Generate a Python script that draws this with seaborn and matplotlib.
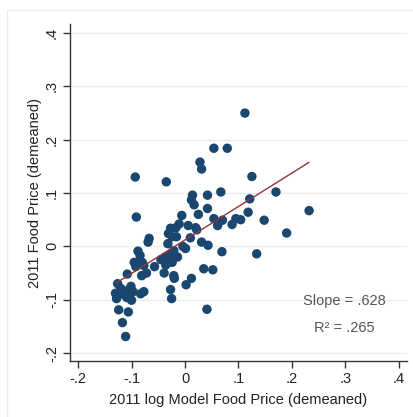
import matplotlib
matplotlib.use("Agg")
import matplotlib.pyplot as plt
import seaborn as sns
import pandas as pd
from matplotlib.patches import Rectangle

# Demeaned log model food price (x) and demeaned food price (y), 2011
model_price = [
    0.112, 0.054, 0.079, 0.028, 0.031, -0.093, -0.035, 0.125, 0.170, 0.067,
    0.042, 0.014, 0.012, 0.017, 0.121, 0.232, 0.042, 0.118, -0.091, 0.025,
    -0.006, 0.054, 0.070, 0.095, 0.104, 0.148, 0.088, 0.061, -0.011, -0.017,
    0.006, 0.020, 0.022, -0.027, -0.031, -0.024, -0.016, 0.010, 0.190, -0.067,
    -0.069, -0.032, -0.004, 0.001, 0.031, 0.043, 0.069, 0.134, -0.088, -0.084,
    -0.095, -0.089, -0.092, -0.080, -0.077, -0.057, -0.045, -0.036, -0.024, -0.014,
    -0.021, -0.027, -0.037, -0.072, -0.081, -0.108, -0.039, -0.021, -0.020, 0.012,
    0.002, 0.035, 0.052, -0.027, -0.025, 0.041, -0.126, -0.130, -0.128, -0.123,
    -0.117, -0.113, -0.108, -0.101, -0.109, -0.104, -0.100, -0.083, -0.077, -0.124,
    -0.106, -0.117, -0.111, -0.033, -0.120, -0.097,
]
food_price = [
    0.250, 0.184, 0.184, 0.158, 0.145, 0.130, 0.121, 0.131, 0.102, 0.102,
    0.096, 0.096, 0.087, 0.078, 0.089, 0.067, 0.071, 0.064, 0.055, 0.060,
    0.058, 0.052, 0.049, 0.052, 0.050, 0.049, 0.041, 0.039, 0.042, 0.035,
    0.039, 0.035, 0.031, 0.034, 0.024, 0.018, 0.018, 0.016, 0.025, 0.015,
    0.008, 0.005, 0.000, -0.004, 0.008, 0.002, -0.010, -0.014, -0.009, -0.017,
    -0.030, -0.030, -0.038, -0.030, -0.036, -0.038, -0.025, -0.035, -0.030, -0.020,
    -0.008, -0.014, -0.020, -0.050, -0.055, -0.052, -0.050, -0.055, -0.060, -0.060,
    -0.072, -0.042, -0.044, -0.081, -0.098, -0.118, -0.070, -0.088, -0.098, -0.088,
    -0.085, -0.091, -0.083, -0.075, -0.096, -0.093, -0.101, -0.089, -0.085, -0.119,
    -0.123, -0.143, -0.169, -0.030, -0.079, -0.085,
]

# Fitted regression line
slope = 0.628
intercept = 0.012
r_squared = 0.265

x_ticks = [-0.2, -0.1, 0.0, 0.1, 0.2, 0.3, 0.4]
x_tick_labels = ["-.2", "-.1", "0", ".1", ".2", ".3", ".4"]
y_ticks = [-0.2, -0.1, 0.0, 0.1, 0.2, 0.3, 0.4]
y_tick_labels = ["-.2", "-.1", "0", ".1", ".2", ".3", ".4"]

df = pd.DataFrame({"model": model_price, "food": food_price})
x_lo, x_hi = min(model_price), max(model_price)
fit = pd.DataFrame({"model": [x_lo, x_hi],
                    "food": [intercept + slope * x_lo, intercept + slope * x_hi]})

sns.set_theme(style="white")
plt.rcParams["font.family"] = ["Liberation Sans", "DejaVu Sans"]

navy = "#1a476f"
maroon = "#90353b"
text_col = "#222222"

fig = plt.figure(figsize=(4.14, 4.17), dpi=100)
fig.patch.set_facecolor("white")
# faint outer graph-region frame
fig.patches.append(Rectangle((7 / 414, -0.1), 1.2, 1.1 - 10 / 417,
                             transform=fig.transFigure, fill=False,
                             edgecolor="#e6edf0", linewidth=1.0))

ax = fig.add_axes([70 / 414, 1 - 361 / 417, (407 - 70) / 414, (361 - 24) / 417])

ax.set_axisbelow(True)
ax.yaxis.grid(True, color="#e4eef0", linewidth=1.0)
ax.xaxis.grid(False)

sns.scatterplot(data=df, x="model", y="food", ax=ax, color=navy, s=46,
                edgecolor="none", linewidth=0, zorder=3)
sns.lineplot(data=fit, x="model", y="food", ax=ax, color=maroon,
             linewidth=1.0, zorder=4)

ax.set_xlim(-0.215, 0.415)
ax.set_ylim(-0.215, 0.417)

ax.set_xticks(x_ticks)
ax.set_xticklabels(x_tick_labels, fontsize=10.5, color=text_col)
ax.set_yticks(y_ticks)
ax.set_yticklabels(y_tick_labels, fontsize=10.5, color=text_col,
                   rotation=90, va="center")

ax.tick_params(axis="both", direction="out", length=5, width=1.0,
               color="#333333", pad=3, left=True, bottom=True)

for side in ["top", "right"]:
    ax.spines[side].set_visible(False)
for side in ["left", "bottom"]:
    ax.spines[side].set_color("#333333")
    ax.spines[side].set_linewidth(1.0)

ax.set_xlabel("2011 log Model Food Price (demeaned)", fontsize=10.5,
              color=text_col, labelpad=5)
ax.set_ylabel("2011 Food Price (demeaned)", fontsize=10.5,
              color=text_col, labelpad=2)

ax.text(0.297, -0.103, "Slope = .628", ha="center", va="center",
        fontsize=10.5, color="#555555")
ax.text(0.297, -0.153, "R\u00b2 = .265", ha="center", va="center",
        fontsize=10.5, color="#555555")

fig.savefig("out.png", dpi=100, facecolor="white")
